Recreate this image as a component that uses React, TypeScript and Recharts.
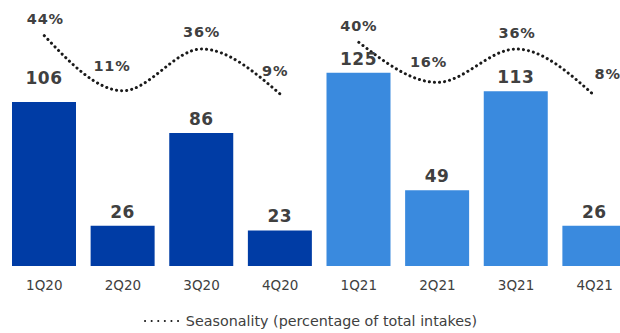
import React from 'react';
import { ComposedChart, Bar, Line, XAxis, YAxis, Cell } from 'recharts';

const quarters = ['1Q20', '2Q20', '3Q20', '4Q20', '1Q21', '2Q21', '3Q21', '4Q21'];
const years = ['2020', '2020', '2020', '2020', '2021', '2021', '2021', '2021'];
const intakes = [106, 26, 86, 23, 125, 49, 113, 26];
const seasonality = [44, 11, 36, 9, 40, 16, 36, 8];
const legendLabel = 'Seasonality (percentage of total intakes)';

const FONT = '"DejaVu Sans", Verdana, sans-serif';
const TEXT = '#404040';
const barColors: Record<string, string> = { '2020': '#003CA5', '2021': '#3A8ADE' };

// label nudges so the percentages sit off the dotted curve
const pctNudge: Record<string, [number, number]> = {
  '1Q20': [1, -17],
  '2Q20': [-11, -25],
  '3Q20': [0, -17],
  '4Q20': [-5, -23],
  '1Q21': [0, -16],
  '2Q21': [-9, -20],
  '3Q21': [1, -16],
  '4Q21': [13, -22],
};
const valueGap: Record<string, number> = { '1Q20': 18 };

const data = quarters.map((q, i) => ({
  q,
  year: years[i],
  intakes: intakes[i],
  s2020: years[i] === '2020' ? seasonality[i] : null,
  s2021: years[i] === '2021' ? seasonality[i] : null,
}));

const renderPct = (props: any) => {
  const { x, y, value, index } = props;
  if (value == null) return null;
  const [dx, dy] = pctNudge[quarters[index]] || [0, -17];
  return (
    <text
      x={x + dx}
      y={y + dy}
      textAnchor="middle"
      dominantBaseline="central"
      fill={TEXT}
      fontFamily={FONT}
      fontSize={14.5}
      fontWeight="bold"
      letterSpacing={0.8}
    >
      {value}%
    </text>
  );
};

const renderValue = (props: any) => {
  const { x, y, width, value, index } = props;
  const gap = valueGap[quarters[index]] ?? 8;
  return (
    <text
      x={x + width / 2}
      y={y - gap}
      textAnchor="middle"
      fill={TEXT}
      fontFamily={FONT}
      fontSize={17}
      fontWeight="bold"
      letterSpacing={0.5}
    >
      {value}
    </text>
  );
};

const dotted = {
  stroke: '#1a1a1a',
  strokeWidth: 3,
  strokeDasharray: '0.1 5',
  strokeLinecap: 'round' as const,
};

export default function App() {
  return (
    <div style={{ position: 'absolute', left: 0, top: 0, width: 620, height: 333, overflow: 'hidden', background: '#fff' }}>
      <ComposedChart
        width={640}
        height={333}
        data={data}
        margin={{ top: 34, right: 6, left: 5, bottom: 37 }}
      >
        <XAxis
          dataKey="q"
          axisLine={false}
          tickLine={false}
          tickMargin={8}
          height={30}
          interval={0}
          tick={{ fill: TEXT, fontFamily: FONT, fontSize: 13.5 }}
        />
        <YAxis yAxisId="n" hide domain={[0, 150]} />
        <YAxis yAxisId="p" hide domain={[-94, 45]} />
        <Bar yAxisId="n" dataKey="intakes" barSize={64} isAnimationActive={false} label={renderValue}>
          {data.map((d) => (
            <Cell key={d.q} fill={barColors[d.year]} />
          ))}
        </Bar>
        <Line
          yAxisId="p"
          type="monotone"
          dataKey="s2020"
          {...dotted}
          dot={false}
          activeDot={false}
          isAnimationActive={false}
          label={renderPct}
        />
        <Line
          yAxisId="p"
          type="monotone"
          dataKey="s2021"
          {...dotted}
          dot={false}
          activeDot={false}
          isAnimationActive={false}
          label={renderPct}
        />
      </ComposedChart>
      <div
        style={{
          position: 'absolute',
          left: 0,
          top: 313,
          width: 620,
          display: 'flex',
          justifyContent: 'center',
          alignItems: 'center',
          fontFamily: FONT,
          fontSize: 14.3,
          color: TEXT,
        }}
      >
        <svg width={40} height={6} style={{ marginRight: 3 }}>
          <line
            x1={2}
            y1={3}
            x2={38}
            y2={3}
            stroke="#1a1a1a"
            strokeWidth={2}
            strokeLinecap="round"
            strokeDasharray="0.1 6.5"
          />
        </svg>
        <span>{legendLabel}</span>
      </div>
    </div>
  );
}
